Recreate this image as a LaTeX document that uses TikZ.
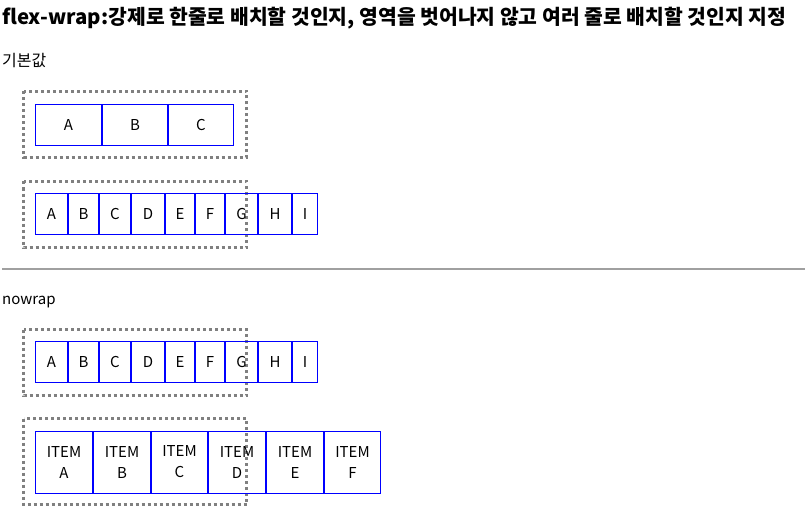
\documentclass[tikz,border=0pt]{standalone}
\usepackage{fontspec}
\setmainfont{Noto Sans CJK KR}
\usetikzlibrary{positioning}
\definecolor{boxblue}{RGB}{0,0,255}
\definecolor{dotgray}{RGB}{128,128,128}
\definecolor{rulegray}{RGB}{160,160,160}

\begin{document}
\begin{tikzpicture}[x=1pt,y=-1pt,
  item/.style={draw=boxblue,line width=1pt,inner sep=0pt,minimum height=41pt,
    font=\fontsize{15}{21}\selectfont,align=center},
  frame/.style={draw=dotgray,line width=3pt,dash pattern=on 3pt off 3pt},
  heading/.style={anchor=base west,inner sep=0pt,font=\fontsize{16}{18}\selectfont}
]
  \useasboundingbox (0,0) rectangle (805,513);

  % title and captions
  \node[heading,font=\fontsize{20.4}{22}\selectfont\bfseries] (title) at (2,25)
    {flex-wrap:강제로 한줄로 배치할 것인지, 영역을 벗어나지 않고 여러 줄로 배치할 것인지 지정};
  \node[heading] (cap1) at (2,67) {기본값};
  \node[heading,font=\fontsize{15}{18}\selectfont] (cap2) at (2,304) {nowrap};
  \draw[rulegray,line width=1.5pt] (2,269) coordinate (ruleL) -- (805,269) coordinate (ruleR);

  % dotted containers
  \draw[frame] (23.5,91.5) rectangle (246.5,157.5);
  \draw[frame] (23.5,181.5) rectangle (246.5,247.5);
  \draw[frame] (23.5,329.5) rectangle (246.5,395.5);
  \draw[frame] (23.5,418.5) rectangle (246.5,504.5);

  % row 1
  \foreach \n/\xa/\xb in {A/35/102,B/102/168,C/168/234}
    \node[item,minimum width=\xb-\xa-1] (r1\n) at ({(\xa+\xb)/2},125) {\n};

  % row 2 and row 3
  \foreach \n/\xa/\xb in {A/35/68,B/68/99,C/99/131,D/131/165,E/165/195,F/195/225,G/225/258,H/258/292,I/292/318}{
    \node[item,minimum width=\xb-\xa-1] (r2\n) at ({(\xa+\xb)/2},214) {\n};
    \node[item,minimum width=\xb-\xa-1] (r3\n) at ({(\xa+\xb)/2},362) {\n};
  }

  % row 4
  \foreach \n/\xa/\xb in {A/35/93,B/93/151,C/151/208,D/208/266,E/266/324,F/324/381}
    \node[item,minimum width=\xb-\xa-1,minimum height=62pt] (r4\n) at ({(\xa+\xb)/2},462) {ITEM\\\n};
\end{tikzpicture}
\end{document}
